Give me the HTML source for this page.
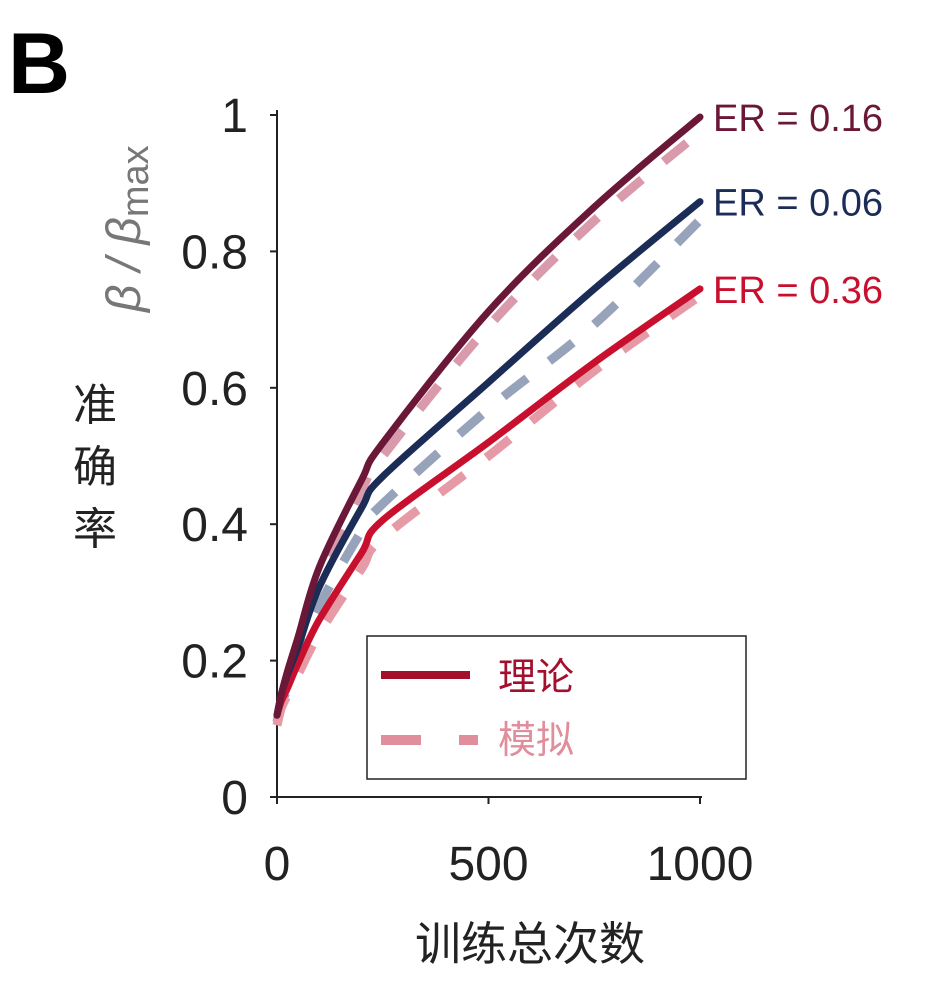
<!DOCTYPE html>
<html><head><meta charset="utf-8"><style>
body{margin:0;background:#fff}
svg text{font-family:"Liberation Sans","Noto Sans CJK SC",sans-serif}
</style></head><body>
<svg id="c" width="942" height="994" viewBox="0 0 942 994" xmlns="http://www.w3.org/2000/svg">
<text x="8" y="93" font-size="86" font-weight="bold" fill="#000">B</text>
<g id="axes"></g>
<g id="series"></g>
<g transform="translate(95,440)">
<text x="0" y="-20" font-size="44" fill="#222" text-anchor="middle">准</text>
<text x="0" y="42" font-size="44" fill="#222" text-anchor="middle">确</text>
<text x="0" y="104" font-size="44" fill="#222" text-anchor="middle">率</text>
</g>
<text transform="translate(140,312) rotate(-90)" font-size="48" fill="#777" font-style="italic">β / β<tspan font-style="normal" font-size="38" dy="8">max</tspan></text>
<text x="530" y="960" font-size="46" fill="#222" text-anchor="middle">训练总次数</text>
<rect x="367" y="636" width="379" height="143" fill="#fff" stroke="#222" stroke-width="1.5"/>
<line x1="381" y1="675" x2="470" y2="675" stroke="#a3102e" stroke-width="8"/>
<text x="498" y="690" font-size="38" fill="#a3102e">理论</text>
<line x1="381" y1="740" x2="478" y2="740" stroke="#e08d9c" stroke-width="10" stroke-dasharray="40,38"/>
<text x="498" y="753" font-size="38" fill="#e08d9c">模拟</text>
</svg>
<script>
const xs=[0,10,25,50,100,200,250,500,750,1000];
const er016=[0.12,0.15,0.185,0.235,0.337,0.465,0.519,0.712,0.865,0.997];
const er006=[0.12,0.15,0.18,0.22,0.308,0.424,0.47,0.608,0.745,0.873];
const er036=[0.12,0.14,0.16,0.196,0.26,0.358,0.406,0.52,0.637,0.745];
const sim016=[0.11,0.14,0.175,0.225,0.32,0.45,0.50,0.69,0.845,0.975];
const sim006=[0.11,0.135,0.16,0.2,0.28,0.39,0.43,0.569,0.693,0.846];
const sim036=[0.105,0.13,0.15,0.18,0.24,0.335,0.38,0.50,0.625,0.735];
const xTicks=[0,500,1000];
const yTicks=[0,0.2,0.4,0.6,0.8,1];
const yTickLabels=["0","0.2","0.4","0.6","0.8","1"];
const erLabels=["ER = 0.16","ER = 0.06","ER = 0.36"];
const NS="http://www.w3.org/2000/svg";
const X=v=>277+v/1000*423, Y=v=>797-v*682;
function mk(t,a,p){const e=document.createElementNS(NS,t);for(const k in a)e.setAttribute(k,a[k]);p.appendChild(e);return e;}
const ax=document.getElementById('axes'), sg=document.getElementById('series');
let l=mk('line',{x1:277,y1:110,x2:277,y2:797,stroke:'#222','stroke-width':2},ax);


l=mk('line',{x1:277,y1:797,x2:702,y2:797,stroke:'#222','stroke-width':2},ax);


yTicks.forEach((v,i)=>{
 mk('line',{x1:270,y1:Y(v),x2:277,y2:Y(v),stroke:'#222','stroke-width':2},ax);
 const t=mk('text',{x:248,y:Y(v)+17,'font-size':48,fill:'#222','text-anchor':'end'},ax);
 t.textContent=yTickLabels[i];
 
 
});
xTicks.forEach(v=>{
 mk('line',{x1:X(v),y1:797,x2:X(v),y2:804,stroke:'#222','stroke-width':2},ax);
 const t=mk('text',{x:X(v),y:880,'font-size':48,fill:'#222','text-anchor':'middle'},ax);
 t.textContent=String(v);
 
 
});
function path(ys){
 const p=xs.map((x,i)=>[X(x),Y(ys[i])]);
 let d='M'+p[0][0]+','+p[0][1];
 for(let i=0;i<p.length-1;i++){
  const p0=p[Math.max(0,i-1)],p1=p[i],p2=p[i+1],p3=p[Math.min(p.length-1,i+2)];
  const c1=[p1[0]+(p2[0]-p0[0])/6,p1[1]+(p2[1]-p0[1])/6];
  const c2=[p2[0]-(p3[0]-p1[0])/6,p2[1]-(p3[1]-p1[1])/6];
  d+=`C${c1[0]},${c1[1]} ${c2[0]},${c2[1]} ${p2[0]},${p2[1]}`;
 }
 return d;
}
const sims=[[sim016,'#d99aab','sim-er-0.16'],[sim006,'#97a3ba','sim-er-0.06'],[sim036,'#e69aa6','sim-er-0.36']];
sims.forEach(s=>{
 const e=mk('path',{d:path(s[0]),fill:'none',stroke:s[1],'stroke-width':9,'stroke-dasharray':'30,28'},sg);
 
 
});
const th=[[er036,'#c8102e','theory-er-0.36'],[er006,'#1b2d57','theory-er-0.06'],[er016,'#6b1838','theory-er-0.16']];
th.forEach(s=>{
 const e=mk('path',{d:path(s[0]),fill:'none',stroke:s[1],'stroke-width':7,'stroke-linecap':'round'},sg);
 
 
});
const lc=['#6b1838','#1b2d57','#c8102e'],ly=[er016,er006,er036];
erLabels.forEach((s,i)=>{
 const t=mk('text',{x:713,y:Y(ly[i][ly[i].length-1])+14,'font-size':38,fill:lc[i]},sg);
 t.textContent=s;
 
 
});
</script>
</body></html>
